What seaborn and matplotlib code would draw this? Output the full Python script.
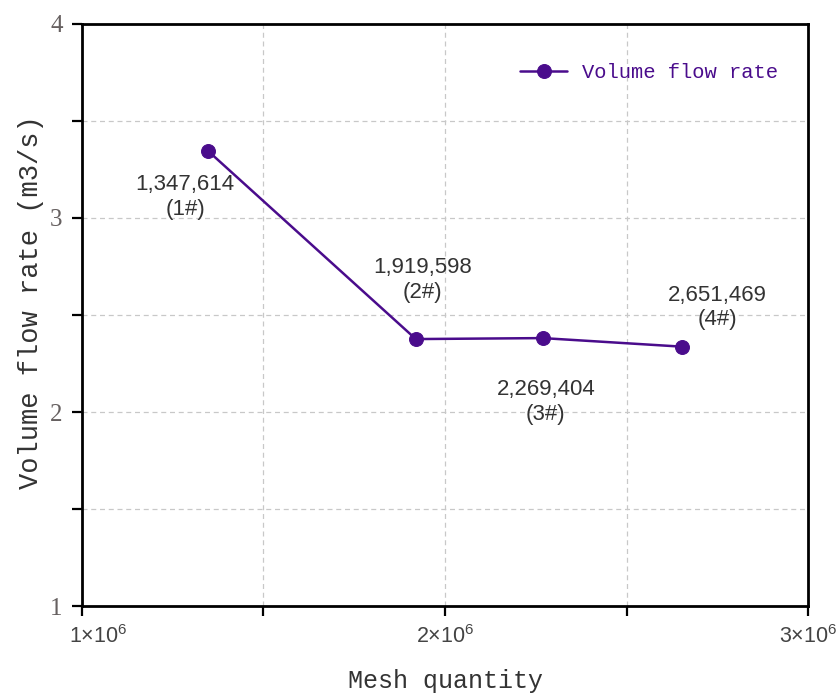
import matplotlib
matplotlib.use("Agg")
import matplotlib.pyplot as plt
import matplotlib.ticker as mticker
import seaborn as sns
import pandas as pd

# Mesh independence data
mesh_quantity = [1347614, 1919598, 2269404, 2651469]
flow_rate = [3.345, 2.376, 2.381, 2.337]
mesh_labels = ["1#", "2#", "3#", "4#"]
label_offsets_px = [(-23, 46), (7, -59), (3, 64), (36, -39)]

df = pd.DataFrame({"Mesh quantity": mesh_quantity,
                   "Volume flow rate": flow_rate})

sns.set_style("ticks")
plt.rcParams["font.family"] = ["Liberation Sans", "DejaVu Sans"]

line_color = "#4A0C8C"
mono = ["Liberation Mono", "DejaVu Sans Mono"]
x_min, x_max = 1e6, 3e6


def sci_label(v):
    return r"$\mathregular{%d{\times}10^{6}}$" % round(v / 1e6)


fig = plt.figure(figsize=(8.39, 6.95), dpi=100)
ax = fig.add_axes([0.0977, 0.128, 0.8654, 0.8375])

sns.lineplot(data=df, x="Mesh quantity", y="Volume flow rate", ax=ax,
             color=line_color, linewidth=1.8, marker="o", markersize=10,
             markeredgecolor=line_color, label="Volume flow rate")

ax.set_xlim(x_min, x_max)
ax.set_ylim(1, 4)

ax.xaxis.set_major_locator(mticker.MultipleLocator(1e6))
ax.xaxis.set_minor_locator(mticker.MultipleLocator(5e5))
ax.yaxis.set_major_locator(mticker.MultipleLocator(1))
ax.yaxis.set_minor_locator(mticker.MultipleLocator(0.5))
# the leftmost label is drawn separately, nudged inward from the corner
ax.xaxis.set_major_formatter(mticker.FuncFormatter(
    lambda v, p: "" if v <= x_min else sci_label(v)))
ax.yaxis.set_major_formatter(mticker.FuncFormatter(lambda v, p: f"{v:.0f}"))

ax.grid(True, which="both", linestyle=(0, (4, 3)), color="#c8c8c8", linewidth=0.9)
ax.set_axisbelow(True)

for side in ["left", "right", "top", "bottom"]:
    ax.spines[side].set_visible(True)
    ax.spines[side].set_color("black")
    ax.spines[side].set_linewidth(2)

tick_len, x_pad = 7, 7
ax.tick_params(which="both", direction="out", length=tick_len, width=1.6, color="black")
ax.tick_params(axis="x", which="major", labelsize=15.5, labelcolor="#444444", pad=x_pad)
ax.tick_params(axis="y", which="major", labelsize=18, labelcolor="#666060", pad=7)
for lbl in ax.get_yticklabels():
    lbl.set_family(["Liberation Serif", "DejaVu Serif"])

ax.annotate(sci_label(x_min), xy=(x_min, 0), xycoords=ax.get_xaxis_transform(),
            xytext=(11.5, -(tick_len + x_pad)), textcoords="offset points",
            ha="center", va="top", fontsize=15.5, color="#444444",
            annotation_clip=False)

ax.set_xlabel("Mesh quantity", family=mono, fontsize=18, color="#333333")
ax.xaxis.set_label_coords(0.5, -0.109)
ax.set_ylabel("Volume flow rate (m3/s)", family=mono, fontsize=19.5, color="#333333")
ax.yaxis.set_label_coords(-0.052, 0.522)

for x, y, tag, (dx, dy) in zip(mesh_quantity, flow_rate, mesh_labels, label_offsets_px):
    ax.annotate(f"{x:,}\n({tag})", xy=(x, y), xytext=(dx, -dy),
                textcoords="offset pixels", ha="center", va="center",
                fontsize=16, color="#333333", linespacing=1.2)

leg = ax.legend(loc="center left", bbox_to_anchor=(0.589, 0.916), frameon=False,
                borderpad=0, handlelength=2.3, handletextpad=0.7,
                prop={"family": mono, "size": 14.8})
for t in leg.get_texts():
    t.set_color(line_color)

fig.savefig("out.png", dpi=100)
